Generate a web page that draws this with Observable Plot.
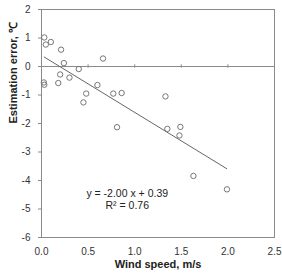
<!DOCTYPE html>
<html><head><meta charset="utf-8">
<script src="https://cdn.jsdelivr.net/npm/d3@7"></script>
<script src="https://cdn.jsdelivr.net/npm/@observablehq/plot@0.6"></script>
<style>body{margin:0;background:#fff;} svg{font-family:"Liberation Sans",Arial,sans-serif;}</style>
</head><body><div id="chart"></div>
<script>
const windSpeed = [0.03,0.046,0.10,0.21,0.24,0.025,0.03,0.20,0.18,0.30,0.40,0.66,0.60,0.48,0.45,0.77,0.86,0.81,1.33,1.35,1.49,1.48,1.63,1.99];
const estError  = [1.02,0.77,0.86,0.59,0.12,-0.56,-0.64,-0.28,-0.58,-0.39,-0.09,0.28,-0.65,-0.95,-1.26,-0.95,-0.93,-2.13,-1.05,-2.19,-2.12,-2.42,-3.84,-4.31];
const slope = -2.00, intercept = 0.39, r2 = 0.76;
const xTicks = [0, 0.5, 1.0, 1.5, 2.0, 2.5];
const yTicks = [2, 1, 0, -1, -2, -3, -4, -5, -6];
const innerTicks = [0.5, 1.0, 1.5, 2.0];

const pts = windSpeed.map((x, i) => ({x, y: estError[i]}));
const xMin = d3.min(windSpeed), xMax = d3.max(windSpeed);
const fit = [{x1: xMin, y1: slope*xMin + intercept, x2: xMax, y2: slope*xMax + intercept}];

const chart = Plot.plot({
  width: 282, height: 275,
  marginLeft: 41, marginRight: 8, marginTop: 9, marginBottom: 38,
  x: {domain: [0, 2.5]},
  y: {domain: [-6, 2]},
  marks: [
    Plot.frame({stroke: "#8a8a8a"}),
    Plot.ruleY([0], {stroke: "#8a8a8a"}),
    Plot.ruleX(innerTicks, {y1: -0.06, y2: 0.06, stroke: "#8a8a8a"}),
    Plot.axisX({ticks: xTicks, tickSize: 0, tickPadding: 10, tickFormat: d3.format(".1f"), fontSize: 10, color: "#333", label: null}),
    Plot.axisY({ticks: yTicks, tickSize: 3, tickPadding: 8, tickFormat: d => String(d).replace("−","-"), fontSize: 10, color: "#333", stroke: "#8a8a8a", label: null}),
    Plot.link(fit, {x1: "x1", y1: "y1", x2: "x2", y2: "y2", stroke: "#666", strokeWidth: 1}),
    Plot.dot(pts, {x: "x", y: "y", r: 2.7, stroke: "#777", strokeWidth: 1, fill: "none"}),
    Plot.text([`y = ${slope.toFixed(2)} x + ${intercept.toFixed(2)}`], {x: 0.92, y: -4.45, fontSize: 10.5, fill: "#222"}),
    Plot.text([`R² = ${r2.toFixed(2)}`], {x: 0.92, y: -4.88, fontSize: 10.5, fill: "#222"}),
    Plot.text(["Wind speed, m/s"], {frameAnchor: "bottom", dy: 30, fontSize: 11, fontWeight: "bold", fill: "#222"}),
    Plot.text(["Estimation error, ℃"], {frameAnchor: "left", dx: -28, rotate: -90, fontSize: 11, fontWeight: "bold", fill: "#222"})
  ]
});
document.getElementById("chart").appendChild(chart);
</script></body></html>
